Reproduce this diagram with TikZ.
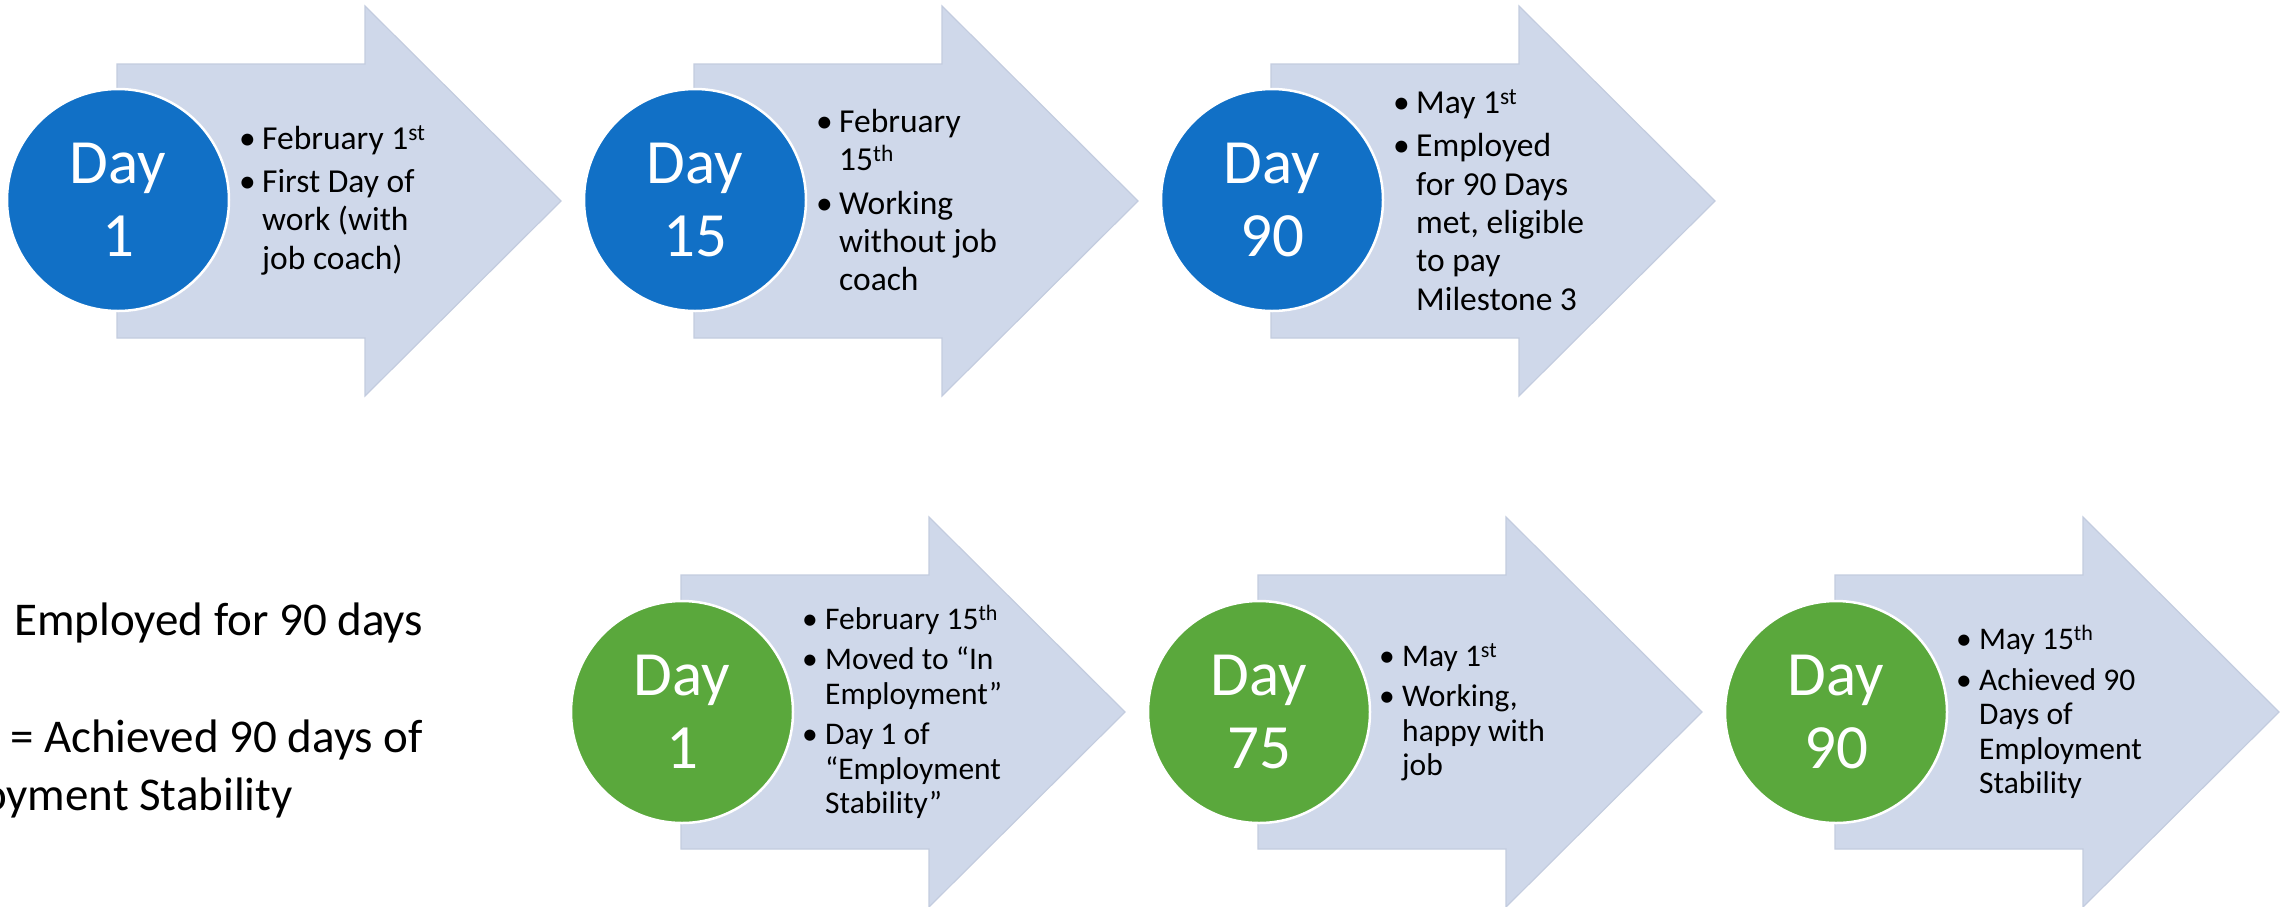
\documentclass[tikz,border=0pt]{standalone}
\usepackage{fontspec}
\setmainfont{Carlito}
\usetikzlibrary{positioning}

\definecolor{stageblue}{HTML}{1170C6}
\definecolor{stagegreen}{HTML}{5AA83C}
\definecolor{stagefill}{HTML}{CFD8EA}
\definecolor{stageedge}{HTML}{C3CCDF}

\tikzset{%
  node distance=577pt,
  every node/.style={inner sep=0pt},
  stage/.style={fill=stagefill, draw=stageedge, line width=1.2pt},
  day/.style={circle, minimum size=222pt, draw=white, line width=2.5pt,
    text=white, align=center, font=\fontsize{63}{73}\selectfont},
  bluedot/.style={day, fill=stageblue},
  greendot/.style={day, fill=stagegreen},
  notes/.style={anchor=west, align=left,
    font=\fontsize{33.5}{38.3}\selectfont},
  smallnotes/.style={notes, font=\fontsize{31.5}{34.5}\selectfont},
  legend/.style={anchor=base west, font=\fontsize{47}{57}\selectfont}
}
\newcommand{\bul}{\makebox[23pt][l]{\textbullet}}
\newcommand{\ind}{\hspace*{23pt}}

\begin{document}
\begin{tikzpicture}[x=1pt, y=-1pt]
  \useasboundingbox (0,0) rectangle (2286,906);
  \clip (0,0) rectangle (2286,906);

  % arrows behind the stages
  \foreach \x/\y in {117/201, 694/201, 1271/201, 681/712, 1258/712, 1835/712}
    \draw[stage] (\x,\y-137) -- ++(248,0) -- ++(0,-58) -- ++(196,195)
      -- ++(-196,195) -- ++(0,-58) -- ++(-248,0) -- cycle;

  % first row
  \node[bluedot] (day1) at (118,200) {Day\\1};
  \node[bluedot, right of=day1] (day15) {Day\\15};
  \node[bluedot, right of=day15] (day90) {Day\\90};

  \node[notes, right=121pt of day1.center] (day1txt)
    {\bul February 1\textsuperscript{st}\\[5pt]
     \bul First Day of\\ \ind work (with\\ \ind job coach)};
  \node[notes, right=121pt of day15.center] (day15txt)
    {\bul February\\ \ind 15\textsuperscript{th}\\[5pt]
     \bul Working\\ \ind without job\\ \ind coach};
  \node[notes, right=121pt of day90.center] (day90txt)
    {\bul May 1\textsuperscript{st}\\[5pt]
     \bul Employed\\ \ind for 90 Days\\ \ind met, eligible\\ \ind to pay\\
     \ind Milestone 3};

  % second row
  \node[greendot] (es1) at (682,712) {Day\\1};
  \node[greendot, right of=es1] (es75) {Day\\75};
  \node[greendot, right of=es75] (es90) {Day\\90};

  \node[smallnotes, right=120pt of es1.center] (es1txt)
    {\bul February 15\textsuperscript{th}\\[6pt]
     \bul Moved to “In\\ \ind Employment”\\[6pt]
     \bul Day 1 of\\ \ind “Employment\\ \ind Stability”};
  \node[smallnotes, right=120pt of es75.center] (es75txt)
    {\bul May 1\textsuperscript{st}\\[6pt]
     \bul Working,\\ \ind happy with\\ \ind job};
  \node[smallnotes, right=120pt of es90.center] (es90txt)
    {\bul May 15\textsuperscript{th}\\[6pt]
     \bul Achieved 90\\ \ind Days of\\ \ind Employment\\ \ind Stability};

  % key on the left
  \node[legend] (keyjob) at (14,635) {Employed for 90 days};
  \node[legend] (keystab) at (10,752) {= Achieved 90 days of};
  \node[legend, anchor=base east] (keystab2) at (293,810) {Employment Stability};
\end{tikzpicture}
\end{document}
